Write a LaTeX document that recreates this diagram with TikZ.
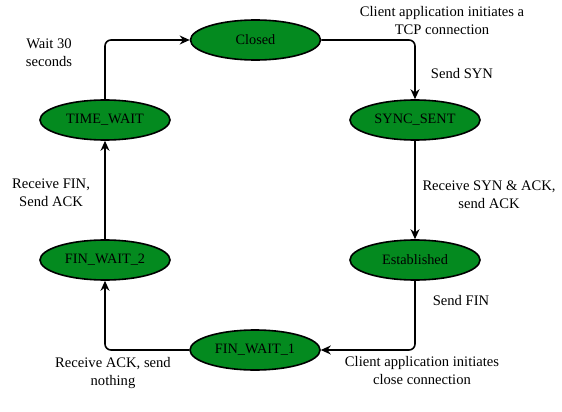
\documentclass[tikz,border=0pt]{standalone}
\usepackage{fontspec}
\setmainfont{Liberation Serif}
\usetikzlibrary{arrows.meta}
\definecolor{stategreen}{RGB}{4,138,31}
\tikzset{
  state/.style={ellipse, draw=black, line width=1.6pt, fill=stategreen, minimum width=130pt, minimum height=40pt, inner sep=0pt, font=\fontsize{14.3}{18}\selectfont},
  conn/.style={draw=black, line width=1.6pt, rounded corners=6pt, -{Stealth[length=10pt,width=9pt]}},
  lbl/.style={align=center, font=\fontsize{14.6}{18}\selectfont, inner sep=0pt}
}
\usetikzlibrary{shapes.geometric}
\begin{document}
\begin{tikzpicture}[x=1pt,y=-1pt]
\useasboundingbox (0,0) rectangle (562,412);
\node[state] (closed) at (255.5,40) {Closed};
\node[state] (tw) at (105,120) {TIME\_WAIT};
\node[state] (sync) at (415,120) {SYNC\_SENT};
\node[state] (fw2) at (105,260) {FIN\_WAIT\_2};
\node[state] (est) at (415,260) {Established};
\node[state] (fw1) at (255,350) {FIN\_WAIT\_1};
\draw[conn] (closed.east) -| (sync.north);
\draw[conn] (sync.south) -- (est.north);
\draw[conn] (est.south) |- (fw1.east);
\draw[conn] (fw1.west) -| (fw2.south);
\draw[conn] (fw2.north) -- (tw.south);
\draw[conn] (tw.north) |- (closed.west);
\node[lbl] (l1) at (49,53) {Wait 30\\seconds};
\node[lbl] (l2) at (442,21) {Client application initiates a\\TCP connection};
\node[lbl] (l3) at (462,74) {Send SYN};
\node[lbl] (l4) at (489,195) {Receive SYN \& ACK,\\send ACK};
\node[lbl] (l5) at (461,301) {Send FIN};
\node[lbl] (l6) at (422,371) {Client application initiates\\close connection};
\node[lbl] (l7) at (113,373) {Receive ACK, send\\nothing};
\node[lbl] (l8) at (51,193) {Receive FIN,\\Send ACK};
\end{tikzpicture}
\end{document}
